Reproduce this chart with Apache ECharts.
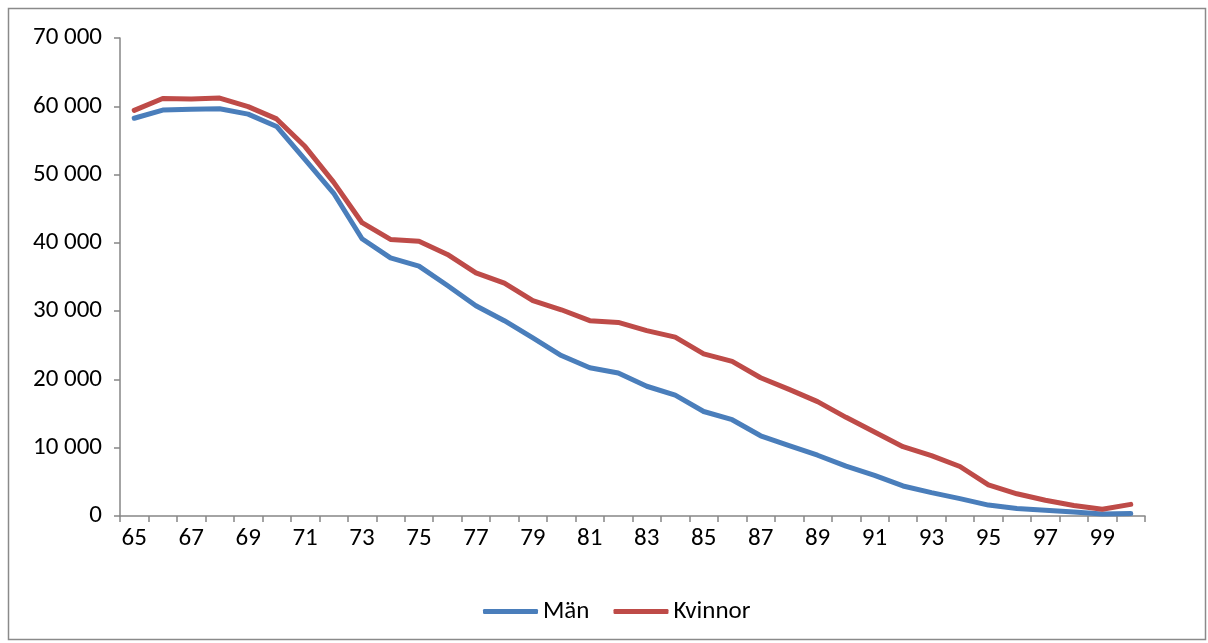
<!DOCTYPE html>
<html>
<head>
<meta charset="utf-8">
<script src="https://cdn.jsdelivr.net/npm/echarts@6/dist/echarts.min.js"></script>
<style>
html,body{margin:0;padding:0;background:#fff;}
#c{width:1208px;height:643px;}
</style>
</head>
<body>
<div id="c"></div>
<script>
const ages = ['65','66','67','68','69','70','71','72','73','74','75','76','77','78','79','80','81','82','83','84','85','86','87','88','89','90','91','92','93','94','95','96','97','98','99','100'];
const man = [58250,59450,59550,59650,58850,57050,52200,47300,40600,37800,36600,33750,30800,28600,26080,23500,21700,20950,19000,17700,15300,14100,11750,10300,8900,7300,5950,4400,3420,2550,1600,1100,850,600,300,350];
const kvinnor = [59400,61150,61050,61200,59950,58150,54100,48900,42950,40500,40250,38300,35600,34100,31550,30200,28600,28350,27150,26200,23750,22650,20250,18550,16750,14450,12300,10150,8850,7250,4550,3250,2300,1550,1000,1700];
const yTicks = {min:0, max:70000, interval:10000};

const FONT = 'Carlito, Lato, sans-serif';
const fmt = v => String(v).replace(/\B(?=(\d{3})+(?!\d))/g, ' ');

const chart = echarts.init(document.getElementById('c'), null, {renderer:'canvas'});
chart.setOption({
  animation:false,
  backgroundColor:'#fff',
  graphic:[{type:'rect', shape:{x:8.5, y:8.5, width:1197, height:631}, style:{fill:'none', stroke:'#8a8a8a', lineWidth:1.5}, silent:true}],
  grid:{left:120, right:63, top:38, bottom:127},
  legend:{
    left:478, top:594, itemWidth:55, itemHeight:5, itemGap:24, icon:'roundRect',
    textStyle:{fontFamily:FONT, fontSize:25, color:'#000'},
    data:['Män','Kvinnor']
  },
  xAxis:{
    type:'category', data:ages, boundaryGap:true,
    axisLine:{lineStyle:{color:'#868686', width:1.5}},
    axisTick:{show:true, length:6, interval:0, lineStyle:{color:'#868686', width:1.5}},
    axisLabel:{interval:1, margin:10, fontFamily:FONT, fontSize:25, color:'#000'},
    splitLine:{show:false}
  },
  yAxis:{
    type:'value', min:yTicks.min, max:yTicks.max, interval:yTicks.interval,
    axisLine:{show:true, lineStyle:{color:'#868686', width:1.5}},
    axisTick:{show:true, length:6, lineStyle:{color:'#868686', width:1.5}},
    axisLabel:{margin:18, fontFamily:FONT, fontSize:25, color:'#000', formatter:fmt},
    splitLine:{show:false}
  },
  series:[
    {name:'Män', type:'line', data:man, showSymbol:false, symbol:'none', color:'#4a7ebb',
     lineStyle:{width:5, color:'#4a7ebb', join:'round', cap:'round'}},
    {name:'Kvinnor', type:'line', data:kvinnor, showSymbol:false, symbol:'none', color:'#be4b48',
     lineStyle:{width:5, color:'#be4b48', join:'round', cap:'round'}}
  ]
});
</script>
</body>
</html>
